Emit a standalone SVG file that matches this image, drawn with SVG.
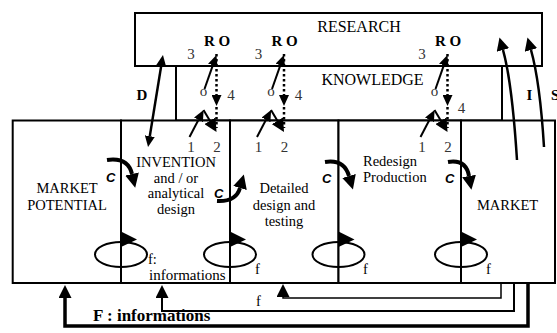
<svg xmlns="http://www.w3.org/2000/svg" width="557" height="333" viewBox="0 0 557 333">
<style>
.box{fill:#fff;stroke:#000;stroke-width:2}
.t{font-family:"Liberation Serif","Times New Roman",serif;font-size:14.5px;fill:#000}
.big{font-size:16px}
.b{font-weight:bold}
.n{fill:#333;font-size:15px}
.mid{text-anchor:middle}
.c{font-family:"Liberation Sans",Arial,sans-serif;font-weight:bold;font-style:italic;font-size:13px;fill:#000}
.ln{fill:none;stroke:#000;stroke-width:2}
.dot{stroke-dasharray:2.5 2.5;stroke-width:2.5}
.med{stroke-width:2.5}
.thick{stroke-width:4}
.thin{stroke-width:1.5}
.heavy{stroke-width:3.5}
.loop{fill:none;stroke:#000;stroke-width:2}
</style>
<defs>
<marker id="hs" markerUnits="userSpaceOnUse" viewBox="0 0 11 10" refX="0" refY="5" markerWidth="11" markerHeight="10" orient="auto-start-reverse"><path d="M0,0 L11,5 L0,10 z" fill="#000"/></marker>
<marker id="hm" markerUnits="userSpaceOnUse" viewBox="0 0 13 13" refX="0" refY="6.5" markerWidth="13" markerHeight="13" orient="auto"><path d="M0,0 L13,6.5 L0,13 z" fill="#000"/></marker>
<marker id="hb" markerUnits="userSpaceOnUse" viewBox="0 0 14 14" refX="0" refY="7" markerWidth="14" markerHeight="14" orient="auto"><path d="M0,0 L14,7 L0,14 z" fill="#000"/></marker>
<polygon id="loophead" points="0,-8 0,7.5 16,0" fill="#000"/>
</defs>

<g id="research">
<rect class="box" x="135" y="13" width="407" height="53"/>
<text class="t big mid" x="359" y="32">RESEARCH</text>
</g>
<g id="knowledge">
<rect class="box" x="176" y="66" width="326" height="54.5"/>
<text class="t big mid" x="372.5" y="85">KNOWLEDGE</text>
</g>
<g id="market-potential">
<rect class="box" x="12.7" y="120.5" width="108.3" height="162.5"/>
<text class="t mid" x="67" y="193">MARKET</text>
<text class="t mid" x="67" y="210">POTENTIAL</text>
</g>
<g id="invention">
<rect class="box" x="121" y="120.5" width="109" height="162.5"/>
<text class="t mid" x="176" y="167">INVENTION</text>
<text class="t mid" x="176" y="182.5">and / or</text>
<text class="t mid" x="176" y="198">analytical</text>
<text class="t mid" x="176" y="213.5">design</text>
</g>
<g id="detailed-design">
<rect class="box" x="230" y="120.5" width="108.5" height="162.5"/>
<text class="t mid" x="284" y="193">Detailed</text>
<text class="t mid" x="284" y="210">design and</text>
<text class="t mid" x="284" y="226">testing</text>
</g>
<g id="redesign-production">
<rect class="box" x="338.5" y="120.5" width="122.5" height="162.5"/>
<text class="t" x="363" y="166">Redesign</text>
<text class="t" x="363" y="182">Production</text>
</g>
<g id="market">
<rect class="box" x="461" y="120.5" width="94" height="162.5"/>
<text class="t mid" x="507.5" y="210">MARKET</text>
</g>

<g id="connectors">
<path class="ln dot" d="M216.5,54 V95" marker-end="url(#hs)"/>
<path class="ln dot" d="M216.5,107 V128"/>
<path class="ln" d="M204.5,89 L212.8,65.3" marker-end="url(#hs)"/>
<path class="ln" d="M189.5,137 L198.5,119.8" marker-end="url(#hs)"/>
<path class="ln" d="M203.5,110 L209.9,120.8" marker-end="url(#hm)"/>

<path class="ln dot" d="M284,54 V95" marker-end="url(#hs)"/>
<path class="ln dot" d="M284,107 V128"/>
<path class="ln" d="M272,89 L280.3,65.3" marker-end="url(#hs)"/>
<path class="ln" d="M257,137 L266,119.8" marker-end="url(#hs)"/>
<path class="ln" d="M271,110 L277.4,120.8" marker-end="url(#hm)"/>

<path class="ln dot" d="M447.5,54 V95" marker-end="url(#hs)"/>
<path class="ln dot" d="M447.5,107 V128"/>
<path class="ln" d="M435.5,89 L443.8,65.3" marker-end="url(#hs)"/>
<path class="ln" d="M420.5,137 L429.5,119.8" marker-end="url(#hs)"/>
<path class="ln" d="M434.5,110 L440.9,120.8" marker-end="url(#hm)"/>

<path class="ln med" d="M161.2,65.9 L149.8,136.1" marker-start="url(#hs)" marker-end="url(#hs)"/>
<path class="ln med" d="M517,160 Q512,82 503,50" marker-end="url(#hm)"/>
<path class="ln med" d="M544,147 Q540,82 531,50" marker-end="url(#hm)"/>

<path class="ln thick" d="M107,160 Q128,157 132,174" marker-end="url(#hb)"/>
<path class="ln thick" d="M217,201 Q236,202 240,188" marker-end="url(#hb)"/>
<path class="ln thick" d="M325,162 Q344,159 349,176" marker-end="url(#hb)"/>
<path class="ln thick" d="M448,162 Q466,159 469,176" marker-end="url(#hb)"/>

<ellipse class="loop" cx="121" cy="254.5" rx="26" ry="12.5"/>
<use href="#loophead" x="121" y="239.5"/>
<ellipse class="loop" cx="230" cy="254.5" rx="26" ry="12.5"/>
<use href="#loophead" x="230" y="239.5"/>
<ellipse class="loop" cx="338.5" cy="254.5" rx="26" ry="12.5"/>
<use href="#loophead" x="338.5" y="239.5"/>
<ellipse class="loop" cx="461" cy="254.5" rx="26" ry="12.5"/>
<use href="#loophead" x="461" y="239.5"/>

<path class="ln thin" d="M501,283 V298 H283 V297" marker-end="url(#hm)"/>
<path class="ln" d="M514,283 V311 H162 V298" marker-end="url(#hm)"/>
<path class="ln heavy" d="M528,283 V326 H65 V298" marker-end="url(#hm)"/>
</g>

<g id="labels">
<text class="t b mid" x="217" y="46" style="font-size:15px">R O</text>
<text class="t b mid" x="284.5" y="46" style="font-size:15px">R O</text>
<text class="t b mid" x="448" y="46" style="font-size:15px">R O</text>
<text class="t n mid" x="191" y="59">3</text>
<text class="t n mid" x="258.5" y="59">3</text>
<text class="t n mid" x="422" y="59">3</text>
<text class="t n mid" x="203.5" y="96">o</text>
<text class="t n mid" x="271" y="96">o</text>
<text class="t n mid" x="434.5" y="96">o</text>
<text class="t n mid" x="231" y="100">4</text>
<text class="t n mid" x="298.5" y="100">4</text>
<text class="t n mid" x="461.5" y="113">4</text>
<text class="t n mid" x="191" y="152">1</text>
<text class="t n mid" x="217" y="152">2</text>
<text class="t n mid" x="258.5" y="152">1</text>
<text class="t n mid" x="284.5" y="152">2</text>
<text class="t n mid" x="422" y="152">1</text>
<text class="t n mid" x="448" y="152">2</text>
<text class="t b mid" x="142" y="100" style="font-size:15px">D</text>
<text class="t b mid" x="529.5" y="100" style="font-size:15px">I</text>
<text class="t b" x="551" y="100" style="font-size:15px">S</text>
<text class="c" x="106" y="182">C</text>
<text class="c" x="214" y="198">C</text>
<text class="c" x="322" y="183">C</text>
<text class="c" x="445" y="183">C</text>
<text class="t" x="148" y="264">f:</text>
<text class="t" x="149" y="280" style="font-size:15px">informations</text>
<text class="t" x="255" y="274">f</text>
<text class="t" x="363" y="274">f</text>
<text class="t" x="486" y="274">f</text>
<text class="t" x="256" y="306">f</text>
<text class="t b" x="93" y="321" style="font-size:17px">F : informations</text>
</g>
</svg>
